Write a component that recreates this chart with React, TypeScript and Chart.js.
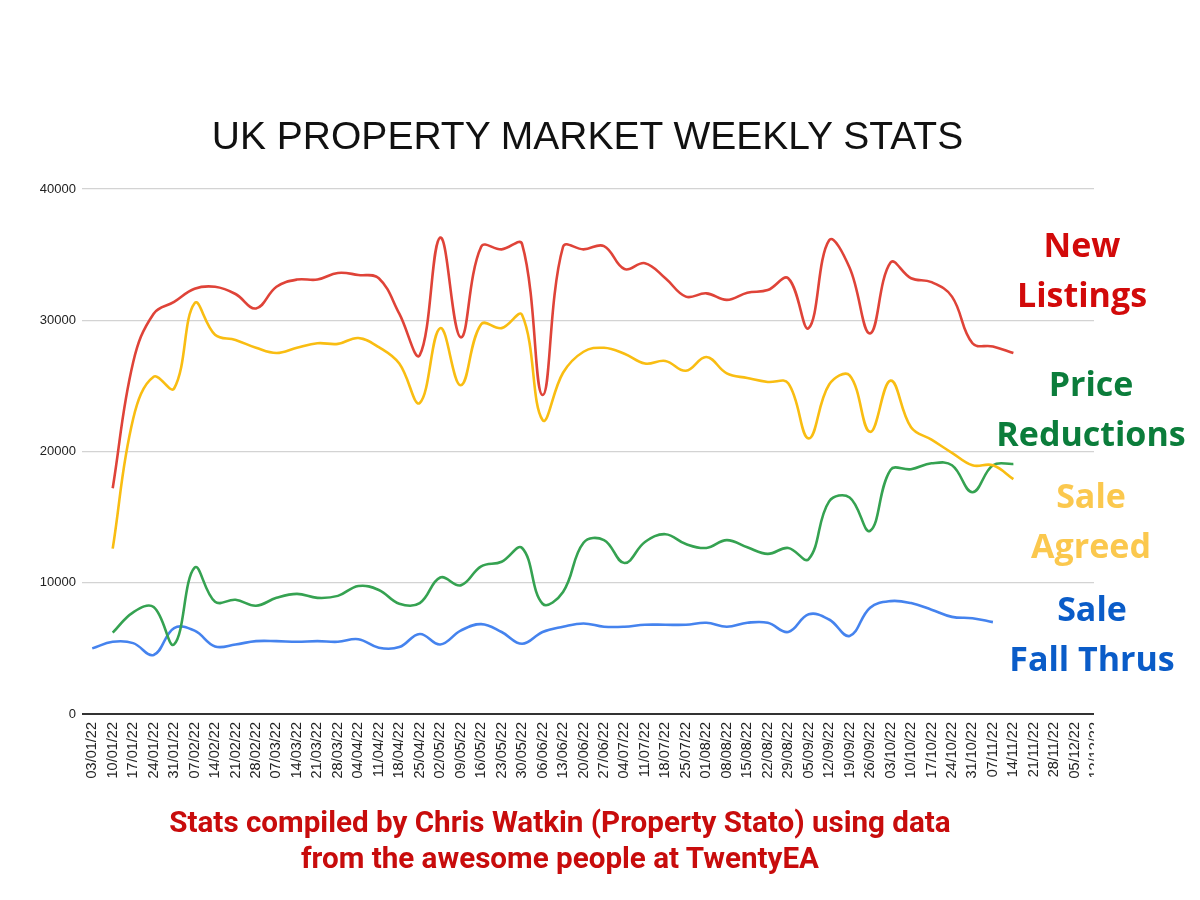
import React, { useEffect, useRef } from "react";
import { Chart, registerables } from "chart.js";

Chart.register(...registerables);

const weeks: string[] = [
  "03/01/22", "10/01/22", "17/01/22", "24/01/22", "31/01/22", "07/02/22", "14/02/22", "21/02/22",
  "28/02/22", "07/03/22", "14/03/22", "21/03/22", "28/03/22", "04/04/22", "11/04/22", "18/04/22",
  "25/04/22", "02/05/22", "09/05/22", "16/05/22", "23/05/22", "30/05/22", "06/06/22", "13/06/22",
  "20/06/22", "27/06/22", "04/07/22", "11/07/22", "18/07/22", "25/07/22", "01/08/22", "08/08/22",
  "15/08/22", "22/08/22", "29/08/22", "05/09/22", "12/09/22", "19/09/22", "26/09/22", "03/10/22",
  "10/10/22", "17/10/22", "24/10/22", "31/10/22", "07/11/22", "14/11/22", "21/11/22", "28/11/22",
  "05/12/22", "12/12/22",
];

const newListings: (number | null)[] = [
  null, 17200, 26800, 30500, 31400, 32400, 32550, 32000, 30900, 32550,
  33100, 33100, 33600, 33450, 33200, 30500, 27350, 36300, 28700, 35600,
  35400, 35800, 24300, 35600, 35400, 35650, 33900, 34350, 33200, 31800,
  32050, 31550, 32100, 32300, 33200, 29400, 36100, 34000, 29000, 34400,
  33200, 32900, 31800, 28250, 28000, 27500, null, null, null, null,
];

const saleAgreed: (number | null)[] = [
  null, 12600, 22500, 25700, 24800, 31300, 28900, 28500, 27900, 27500,
  27900, 28250, 28200, 28650, 27950, 26700, 23700, 29400, 25050, 29700,
  29400, 30400, 22400, 26000, 27600, 27900, 27450, 26700, 26900, 26150,
  27200, 25950, 25600, 25300, 25200, 21000, 25100, 25800, 21500, 25400,
  21850, 20900, 19900, 18950, 18950, 17900, null, null, null, null,
];

const priceReductions: (number | null)[] = [
  null, 6200, 7750, 8150, 5300, 11150, 8550, 8700, 8250, 8850,
  9150, 8850, 9000, 9750, 9450, 8400, 8450, 10400, 9800, 11250,
  11600, 12650, 8400, 9300, 13050, 13250, 11500, 13100, 13700, 12950,
  12650, 13250, 12700, 12200, 12650, 11800, 16200, 16500, 13950, 18600,
  18650, 19100, 18950, 16900, 18950, 19050, null, null, null, null,
];

const saleFallThrus: (number | null)[] = [
  5000, 5500, 5400, 4500, 6550, 6350, 5150, 5300, 5550, 5550,
  5500, 5550, 5500, 5700, 5050, 5100, 6100, 5300, 6350, 6850,
  6250, 5350, 6250, 6650, 6900, 6650, 6650, 6800, 6800, 6800,
  6950, 6650, 6950, 6950, 6250, 7600, 7200, 5950, 8100, 8600,
  8450, 7950, 7400, 7300, 7000, null, null, null, null, null,
];

const yTicks: number[] = [0, 10000, 20000, 30000, 40000];

const TITLE = "UK PROPERTY MARKET WEEKLY STATS";
const CAPTION_1 = "Stats compiled by Chris Watkin (Property Stato) using data";
const CAPTION_2 = "from the awesome people at TwentyEA";

const sideLabels = [
  { lines: ["New", "Listings"], color: "#d20a0a", cx: 1082, top: 219 },
  { lines: ["Price", "Reductions"], color: "#0b7d3b", cx: 1091, top: 358 },
  { lines: ["Sale", "Agreed"], color: "#fbc84e", cx: 1091, top: 470 },
  { lines: ["Sale", "Fall Thrus"], color: "#0a5cc8", cx: 1092, top: 583 },
];

const coverRight = {
  id: "coverRight",
  afterDraw(chart: Chart) {
    const ctx = chart.ctx;
    ctx.save();
    ctx.fillStyle = "#ffffff";
    ctx.fillRect(1094, 150, 106, 700);
    ctx.restore();
  },
};

export default function App() {
  const ref = useRef<HTMLCanvasElement>(null);

  useEffect(() => {
    document.body.style.margin = "0";
    const canvas = ref.current;
    if (!canvas) return;
    const mk = (label: string, data: (number | null)[], color: string) => ({
      label,
      data,
      borderColor: color,
      backgroundColor: color,
      borderWidth: 2.6,
      pointRadius: 0,
      pointHoverRadius: 0,
      tension: 0.4,
      fill: false,
    });
    const chart = new Chart(canvas, {
      type: "line",
      data: {
        labels: weeks,
        datasets: [
          mk("New Listings", newListings, "#df4338"),
          mk("Sale Agreed", saleAgreed, "#f9bd12"),
          mk("Price Reductions", priceReductions, "#35a251"),
          mk("Sale Fall Thrus", saleFallThrus, "#4583ee"),
        ],
      },
      options: {
        responsive: false,
        animation: false,
        devicePixelRatio: 1,
        layout: { padding: { left: 0, top: 189, right: 94.5, bottom: 0 } },
        plugins: {
          legend: { display: false },
          title: { display: false },
          tooltip: { enabled: false },
        },
        scales: {
          x: {
            type: "category",
            offset: true,
            afterFit: (s: any) => {
              s.height = 186;
            },
            grid: { display: false, drawTicks: false },
            border: { display: false },
            ticks: {
              autoSkip: false,
              minRotation: 90,
              maxRotation: 90,
              padding: 8,
              color: "#222222",
              font: { family: "'Liberation Sans', Arial, sans-serif", size: 14.5 },
            },
          },
          y: {
            min: 0,
            max: 40000,
            afterFit: (s: any) => {
              s.width = 82;
            },
            afterBuildTicks: (s: any) => {
              s.ticks = yTicks.map((v) => ({ value: v }));
            },
            border: { display: false },
            grid: {
              drawTicks: false,
              color: (c: any) => (c.tick && c.tick.value === 0 ? "#333333" : "#d3d3d3"),
              lineWidth: (c: any) => (c.tick && c.tick.value === 0 ? 2 : 1.2),
            },
            ticks: {
              padding: 6,
              color: "#222222",
              font: { family: "'Liberation Sans', Arial, sans-serif", size: 13 },
              callback: (v: any) => String(v),
            },
          },
        },
      },
      plugins: [coverRight],
    });
    return () => chart.destroy();
  }, []);

  return (
    <div
      style={{
        position: "relative",
        width: 1200,
        height: 900,
        background: "#ffffff",
        overflow: "hidden",
      }}
    >
      <canvas
        ref={ref}
        width={1200}
        height={900}
        style={{ position: "absolute", left: 0, top: 0, width: 1200, height: 900 }}
      />
      <div
        style={{
          position: "absolute",
          left: 0,
          width: 1175,
          top: 116,
          textAlign: "center",
          fontFamily: "'Liberation Sans', Arial, sans-serif",
          fontSize: 39,
          lineHeight: "39px",
          color: "#111111",
          whiteSpace: "nowrap",
        }}
      >
        {TITLE}
      </div>
      {sideLabels.map((l, i) => (
        <div
          key={i}
          style={{
            position: "absolute",
            left: l.cx - 150,
            width: 300,
            top: l.top,
            textAlign: "center",
            fontFamily: "'Open Sans', sans-serif",
            fontWeight: 700,
            fontSize: 34,
            lineHeight: "50px",
            color: l.color,
            whiteSpace: "nowrap",
          }}
        >
          {l.lines.map((t, j) => (
            <div key={j}>{t}</div>
          ))}
        </div>
      ))}
      <div
        style={{
          position: "absolute",
          left: 560 - 500,
          width: 1000,
          top: 804,
          textAlign: "center",
          fontFamily: "Roboto, sans-serif",
          fontWeight: 700,
          fontSize: 29.6,
          lineHeight: "36px",
          color: "#c80c0c",
          whiteSpace: "nowrap",
        }}
      >
        <div>{CAPTION_1}</div>
        <div>{CAPTION_2}</div>
      </div>
    </div>
  );
}
